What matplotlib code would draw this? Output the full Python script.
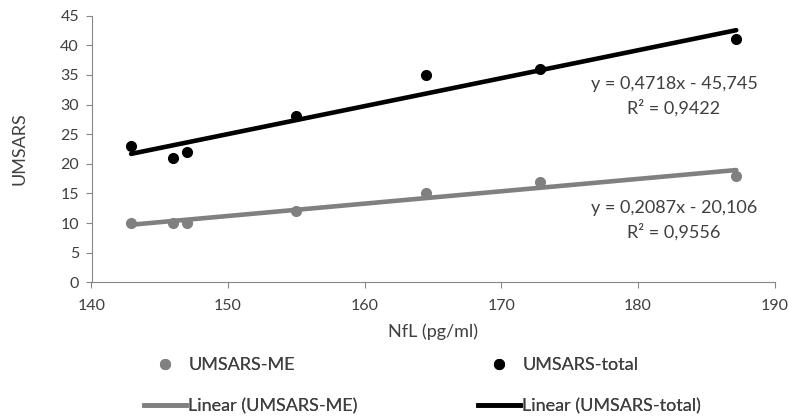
import numpy as np
import matplotlib
matplotlib.use("Agg")
import matplotlib.pyplot as plt
from matplotlib.lines import Line2D

plt.rcParams['font.family'] = ['Lato', 'DejaVu Sans']

# data
nfl = [142.9, 146.0, 147.0, 155.0, 164.5, 172.8, 187.2]
umsars_me = [10, 10, 10, 12, 15, 17, 18]
umsars_total = [23, 21, 22, 28, 35, 36, 41]

GREY = "#808080"
BLACK = "#000000"
TXT = "#3f3f3f"
FS = 13

W, H = 789, 417
fig = plt.figure(figsize=(W / 100, H / 100), dpi=100)
ax = fig.add_axes([91.5 / W, 1 - 282.3 / H, 683 / W, 266.6 / H])

x = np.array(nfl)
xs = np.array([x.min(), x.max()])
for y, c in [(umsars_me, GREY), (umsars_total, BLACK)]:
    k, b = np.polyfit(x, y, 1)
    ax.plot(xs, k * xs + b, color=c, lw=3.3, solid_capstyle='round', zorder=2)
    ax.plot(x, y, 'o', color=c, ms=7, zorder=3)

ax.set_xlim(140, 190)
ax.set_ylim(0, 45)
ax.set_xticks(range(140, 191, 10))
ax.set_yticks(range(0, 46, 5))
for s in ['top', 'right']:
    ax.spines[s].set_visible(False)
for s in ['left', 'bottom']:
    ax.spines[s].set_color("#868686")
ax.tick_params(axis='both', colors="#868686", labelcolor=TXT, labelsize=11.5, length=4)
ax.tick_params(axis='x', pad=8)
ax.tick_params(axis='y', pad=5)
ax.set_xlabel("NfL (pg/ml)", fontsize=FS, color=TXT)
ax.set_ylabel("UMSARS", fontsize=FS, color=TXT)
ax.xaxis.set_label_coords(0.5, -0.153)
ax.yaxis.set_label_coords(-0.0944, 0.5)

# trendline equations
eqs = [("y = 0,4718x - 45,745", "R² = 0,9422", 83.5, 108),
       ("y = 0,2087x - 20,106", "R² = 0,9556", 208, 232)]
for l1, l2, y1, y2 in eqs:
    fig.text(674 / W, 1 - y1 / H, l1, ha='center', va='center', fontsize=FS, color=TXT)
    fig.text(674 / W, 1 - y2 / H, l2, ha='center', va='center', fontsize=FS, color=TXT)

col1 = [Line2D([], [], ls='none', marker='o', color=GREY, ms=7),
        Line2D([], [], color=GREY, lw=3.3)]
col2 = [Line2D([], [], ls='none', marker='o', color=BLACK, ms=7),
        Line2D([], [], color=BLACK, lw=3.3)]
for hs, labs, x0 in [(col1, ["UMSARS-ME", "Linear (UMSARS-ME)"], 144),
                     (col2, ["UMSARS-total", "Linear (UMSARS-total)"], 478)]:
    leg = fig.legend(hs, labs, loc='center left', bbox_to_anchor=(x0 / W, 1 - 386 / H),
                     frameon=False, fontsize=FS, handlelength=2.3, handletextpad=0.15,
                     labelspacing=1.4, borderpad=0, borderaxespad=0, labelcolor=TXT)
    fig.add_artist(leg)

fig.savefig("out.png", dpi=100)
